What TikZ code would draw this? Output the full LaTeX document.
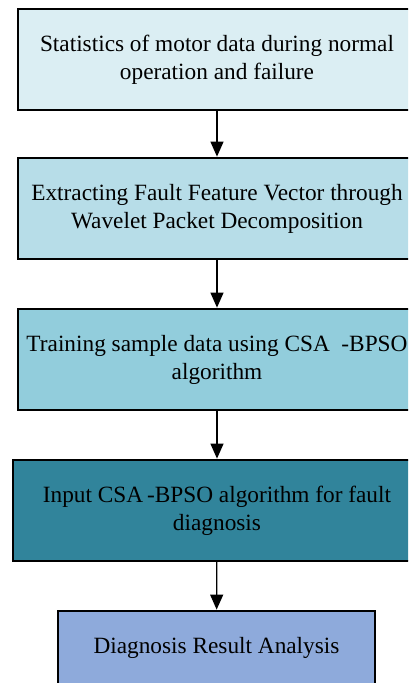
\documentclass[tikz,border=0pt]{standalone}
\usepackage{fontspec}
\setmainfont{Liberation Serif}
\usetikzlibrary{arrows.meta}
\definecolor{stepA}{HTML}{DBEEF3}
\definecolor{stepB}{HTML}{B7DDE8}
\definecolor{stepC}{HTML}{92CDDC}
\definecolor{stepD}{HTML}{31849B}
\definecolor{stepE}{HTML}{8EAADB}
\tikzset{
  stepbox/.style={draw=black, line width=1.4pt, rectangle, align=center,
    minimum height=101pt, inner sep=0pt, text=black,
    font=\fontsize{23.3}{28}\selectfont},
  flow/.style={draw=black, line width=1.2pt,
    -{Triangle[length=15pt,width=13pt]}, shorten >=0.7pt}
}
\begin{document}
\begin{tikzpicture}[x=1pt,y=-1pt]
\useasboundingbox (0,0) rectangle (408,683);
\clip (0,0) rectangle (408,683);
\node[stepbox, fill=stepA, minimum width=398pt] (s1) at (217,59.5)
  {Statistics of motor data during normal\\operation and failure};
\node[stepbox, fill=stepB, minimum width=398pt] (s2) at (217,208.5)
  {Extracting Fault Feature Vector through\\Wavelet Packet Decomposition};
\node[stepbox, fill=stepC, minimum width=398pt] (s3) at (217,359.5)
  {Training sample data using CSA\ \ -BPSO\\algorithm};
\node[stepbox, fill=stepD, minimum width=408pt] (s4) at (217,510.5)
  {Input CSA\,-BPSO algorithm for fault\\diagnosis};
\node[stepbox, fill=stepE, minimum width=317pt, minimum height=74pt] (s5) at (216.5,648)
  {Diagnosis Result Analysis};
\draw[flow] (s1) -- (s2);
\draw[flow] (s2) -- (s3);
\draw[flow] (s3) -- (s4);
\draw[flow] (s4) -- (s5);
\end{tikzpicture}
\end{document}
